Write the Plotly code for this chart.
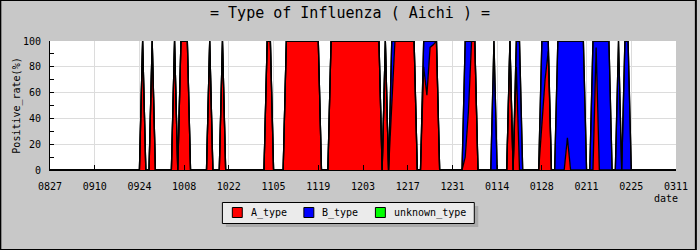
import pandas as pd
import plotly.graph_objects as go

# ---- data (one value per day, 2012-08-27 .. 2013-03-11) ----
start_date = "2012-08-27"
end_date = "2013-03-11"
dates = pd.date_range(start_date, end_date, freq="D")

# A_type positive rate (%), two weeks per row
a_type = [
    0, 0, 0, 0, 0, 0, 0, 0, 0, 0, 0, 0, 0, 0,
    0, 0, 0, 0, 0, 0, 0, 0, 0, 0, 0, 0, 0, 0,
    0, 100, 0, 0, 100, 0, 0, 0, 0, 0, 0, 100, 0, 100,
    100, 100, 0, 0, 0, 0, 0, 0, 100, 0, 0, 0, 100, 0,
    0, 0, 0, 0, 0, 0, 0, 0, 0, 0, 0, 0, 100, 100,
    0, 0, 0, 0, 100, 100, 100, 100, 100, 100, 100, 100, 100, 100,
    100, 0, 0, 0, 100, 100, 100, 100, 100, 100, 100, 100, 100, 100,
    100, 100, 100, 100, 100, 100, 0, 100, 0, 50, 100, 100, 100, 100,
    100, 100, 100, 0, 0, 80, 58, 95, 97, 100, 0, 0, 0, 0,
    0, 0, 0, 0, 10, 45, 100, 100, 0, 0, 0, 0, 0, 0,
    0, 0, 0, 0, 100, 0, 80, 0, 0, 0, 0, 0, 0, 0,
    35, 70, 92, 0, 0, 0, 0, 0, 25, 0, 0, 0, 0, 0,
    0, 0, 0, 95, 0, 0, 0, 0, 0, 0, 0, 0, 0, 0,
    0, 0, 0, 0, 0, 0, 0, 0, 0, 0, 0, 0, 0, 0,
    0,
]

# B_type positive rate (%)
b_type = [
    0, 0, 0, 0, 0, 0, 0, 0, 0, 0, 0, 0, 0, 0,
    0, 0, 0, 0, 0, 0, 0, 0, 0, 0, 0, 0, 0, 0,
    0, 0, 0, 0, 0, 0, 0, 0, 0, 0, 0, 0, 0, 0,
    0, 0, 0, 0, 0, 0, 0, 0, 0, 0, 0, 0, 0, 0,
    0, 0, 0, 0, 0, 0, 0, 0, 0, 0, 0, 0, 0, 0,
    0, 0, 0, 0, 0, 0, 0, 0, 0, 0, 0, 0, 0, 0,
    0, 0, 0, 0, 0, 0, 0, 0, 0, 0, 0, 0, 0, 0,
    0, 0, 0, 0, 0, 0, 0, 0, 0, 50, 0, 0, 0, 0,
    0, 0, 0, 0, 0, 20, 42, 5, 3, 0, 0, 0, 0, 0,
    0, 0, 0, 0, 90, 55, 0, 0, 0, 0, 0, 0, 0, 100,
    0, 0, 0, 0, 0, 0, 20, 100, 0, 0, 0, 0, 0, 0,
    65, 30, 8, 0, 0, 100, 100, 100, 75, 100, 100, 100, 100, 100,
    0, 0, 100, 5, 100, 100, 100, 100, 0, 0, 100, 0, 100, 100,
    0, 0, 0, 0, 0, 0, 0, 0, 0, 0, 0, 0, 0, 0,
    0,
]

# unknown_type positive rate (%)
unknown_type = [0] * len(dates)

series_names = ["A_type", "B_type", "unknown_type"]
series_values = [a_type, b_type, unknown_type]
series_colors = ["#FF0000", "#0000FF", "#00FF00"]

y_ticks = [0, 20, 40, 60, 80, 100]

# ---- figure ----
L, R, T, B = 50, 20, 41, 80
W, H = 700, 250
PW, PH = W - L - R, H - T - B


def px(x):
    return (x - L) / PW


def py(y):
    return (H - B - y) / PH


fig = go.Figure()
mono = "DejaVu Sans Mono"

for name, vals, col in zip(series_names, series_values, series_colors):
    fig.add_trace(go.Scatter(
        x=dates, y=vals, name=name, stackgroup="one", mode="lines",
        line=dict(color="black", width=1.3, shape="linear"),
        fillcolor=col, showlegend=False, hoverinfo="skip",
    ))

# ---- hand-drawn legend box (to match the original layout) ----
shapes = [
    # legend shadow
    dict(type="rect", xref="paper", yref="paper", x0=px(227), x1=px(481),
         y0=py(227), y1=py(206), fillcolor="#AAAAAA", line=dict(width=0), layer="above"),
    # legend box
    dict(type="rect", xref="paper", yref="paper", x0=px(223.5), x1=px(477),
         y0=py(223.5), y1=py(202.5), fillcolor="#EBEBEB",
         line=dict(color="black", width=1), layer="above"),
]
annotations = []
swatch_left = [233, 305, 377]
for name, col, sx in zip(series_names, series_colors, swatch_left):
    shapes.append(dict(type="rect", xref="paper", yref="paper",
                       x0=px(sx + 0.5), x1=px(sx + 10.5), y0=py(217.5), y1=py(207.5),
                       fillcolor=col, line=dict(color="black", width=1), layer="above"))
    annotations.append(dict(text=name, xref="paper", yref="paper",
                            x=px(sx + 17), y=py(212.5), xanchor="left", yanchor="middle",
                            showarrow=False, font=dict(family=mono, size=10)))

annotations.append(dict(text="date", xref="paper", yref="paper", x=px(684), y=py(198),
                        xanchor="right", yanchor="middle", showarrow=False,
                        font=dict(family=mono, size=10)))

# outer border
shapes.append(dict(type="rect", xref="paper", yref="paper", x0=px(0), x1=px(W),
                   y0=py(H), y1=py(0), line=dict(color="black", width=2),
                   fillcolor="rgba(0,0,0,0)", layer="above"))

fig.update_layout(
    width=W, height=H,
    margin=dict(l=L, r=R, t=T, b=B, pad=0),
    paper_bgcolor="#C8C8C8",
    plot_bgcolor="white",
    font=dict(family=mono, size=10, color="black"),
    title=dict(text="= Type of Influenza ( Aichi ) =", x=0.5, xanchor="center",
               y=1 - 13 / H, yanchor="middle", font=dict(family=mono, size=15)),
    showlegend=False,
    xaxis=dict(
        type="date", range=[start_date, end_date],
        tick0=start_date, dtick=14 * 86400000, tickformat="%m%d",
        ticks="inside", ticklen=5, tickcolor="black", tickwidth=1,
        showline=True, linecolor="black", linewidth=1,
        showgrid=True, gridcolor="#DCDCDC", gridwidth=1,
        zeroline=False, ticklabelstandoff=7,
    ),
    yaxis=dict(
        title=dict(text="Positive_rate(%)", standoff=0, font=dict(family=mono, size=10)),
        range=[0, 100], tickvals=y_ticks,
        ticks="inside", ticklen=4, tickcolor="black",
        minor=dict(dtick=10, ticks="inside", ticklen=4, tickcolor="black", showgrid=False),
        showline=True, linecolor="black", linewidth=1,
        showgrid=True, gridcolor="#DCDCDC", gridwidth=1,
        zeroline=False, ticklabelstandoff=6,
    ),
    annotations=annotations,
    shapes=shapes,
)

fig.write_html("out.html")
